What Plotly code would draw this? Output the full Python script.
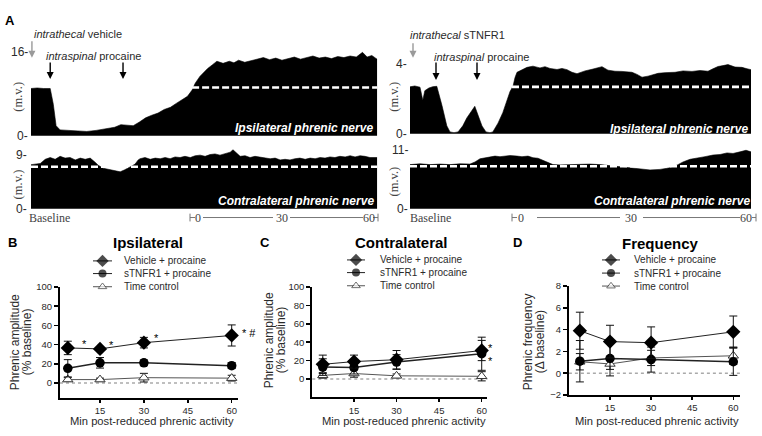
import plotly.graph_objects as go

W, H = 762, 436
SANS = "Liberation Sans, Arial, sans-serif"
SERIF = "Liberation Serif, Times New Roman, serif"
TXT = "#2a2a2a"

# ---------------- Panel A: integrated phrenic neurogram envelopes ----------------
# (time in min relative to onset of reduced phrenic activity, amplitude in m.v.)
IPSI_VEH = [(-52.0, 9.0), (-50.0, 9.1), (-48.0, 9.0), (-45.8, 9.0), (-44.8, 6.0), (-43.9, 1.9),
            (-42.6, 1.1), (-40.0, 1.0), (-37.0, 0.9), (-34.0, 0.8), (-31.0, 1.0), (-29.0, 1.2),
            (-27.0, 1.4), (-25.0, 1.6), (-23.0, 2.1), (-21.0, 2.0), (-19.0, 1.9), (-17.0, 2.6),
            (-15.0, 3.4), (-13.0, 3.9), (-11.0, 4.3), (-9.0, 5.0), (-7.0, 5.4), (-5.0, 6.2),
            (-3.0, 6.9), (-1.5, 7.5), (0.0, 8.7), (1.0, 10.0), (2.5, 11.3), (4.0, 12.3),
            (5.0, 12.8), (6.5, 13.5), (8.0, 14.2), (10.0, 13.8), (12.0, 14.2), (13.5, 13.9),
            (15.0, 14.4), (17.0, 14.0), (19.0, 14.3), (21.0, 14.6), (23.0, 14.9), (25.0, 14.5),
            (27.0, 14.8), (29.0, 14.4), (31.0, 14.7), (33.0, 15.0), (35.0, 14.6), (37.0, 14.9),
            (39.0, 15.2), (41.0, 14.8), (43.0, 15.0), (45.0, 14.7), (47.0, 15.1), (49.0, 14.9),
            (51.0, 15.2), (53.0, 15.0), (55.0, 15.9), (56.5, 15.0), (58.0, 15.3), (59.7, 14.6)]

CONTRA_VEH = [(-52.0, 7.4), (-49.0, 7.6), (-47.4, 8.3), (-45.8, 8.6), (-44.2, 8.3), (-42.6, 8.8),
              (-41.0, 8.5), (-39.4, 8.6), (-37.7, 8.2), (-36.1, 8.5), (-34.5, 8.3), (-32.9, 8.5),
              (-31.3, 7.8), (-30.3, 7.3), (-28.7, 6.8), (-27.1, 6.6), (-25.5, 6.5), (-24.2, 6.3),
              (-23.2, 6.2), (-21.9, 6.5), (-21.0, 6.8), (-19.7, 7.1), (-18.4, 7.5), (-17.4, 8.2),
              (-16.8, 8.4), (-15.2, 8.6), (-13.5, 8.3), (-11.9, 8.5), (-10.3, 8.4), (-8.7, 8.6),
              (-7.1, 8.4), (-5.5, 8.7), (-3.9, 8.6), (-2.3, 8.8), (-0.6, 8.6), (1.0, 8.9),
              (2.6, 9.0), (4.2, 8.8), (5.8, 9.1), (7.4, 9.2), (9.0, 9.0), (10.6, 9.3),
              (12.3, 9.5), (13.2, 9.9), (14.2, 9.4), (15.5, 8.8), (17.1, 8.9), (18.7, 8.6),
              (20.3, 8.8), (21.9, 8.7), (23.5, 8.6), (25.2, 8.4), (26.8, 8.5), (28.4, 8.2),
              (30.0, 8.3), (31.6, 8.2), (33.2, 8.4), (34.8, 8.5), (36.5, 8.3), (38.1, 8.5),
              (39.7, 8.4), (41.3, 8.6), (42.9, 8.5), (44.5, 8.7), (46.1, 8.6), (47.7, 8.8),
              (49.4, 8.7), (51.0, 8.9), (52.6, 8.7), (54.2, 8.9), (55.8, 8.8), (57.4, 8.6),
              (59.7, 8.6)]

IPSI_STN = [(-25.5, 2.67), (-24.3, 2.72), (-23.0, 2.65), (-22.3, 1.9), (-21.8, 2.45), (-20.8, 2.6),
            (-19.8, 2.68), (-18.8, 2.7), (-17.5, 1.6), (-16.3, 0.45), (-15.5, 0.1), (-14.5, 0.06),
            (-13.5, 0.1), (-12.3, 0.45), (-11.3, 0.9), (-10.5, 1.17), (-9.8, 1.45), (-9.3, 1.56),
            (-8.5, 1.06), (-7.5, 0.44), (-6.5, 0.1), (-5.5, 0.06), (-4.8, 0.1), (-3.5, 0.6),
            (-2.3, 1.2), (-1.3, 1.9), (-0.5, 2.4), (0.25, 2.7), (0.75, 3.2), (1.25, 3.5),
            (2.5, 3.65), (3.75, 3.78), (5.25, 3.85), (7.0, 3.75), (8.25, 3.82), (9.5, 3.72),
            (11.25, 3.66), (12.5, 3.72), (13.75, 3.65), (15.0, 3.5), (16.25, 3.42), (18.25, 3.58),
            (20.0, 3.67), (21.25, 3.75), (22.5, 3.82), (24.0, 3.62), (25.75, 3.56), (27.5, 3.55),
            (30.0, 3.5), (31.25, 3.38), (32.5, 3.22), (34.0, 3.28), (35.25, 3.36), (36.5, 3.44),
            (38.25, 3.48), (40.75, 3.5), (42.75, 3.58), (45.0, 3.55), (47.0, 3.6), (49.0, 3.56),
            (50.25, 3.7), (51.5, 3.83), (52.75, 3.88), (54.0, 3.94), (55.75, 3.8), (57.5, 3.78),
            (58.75, 3.7), (59.75, 3.65)]

CONTRA_STN = [(-25.5, 8.3), (-23.0, 8.45), (-20.5, 8.3), (-18.0, 8.4), (-15.5, 8.3), (-13.0, 8.45),
              (-10.5, 8.4), (-9.25, 8.8), (-8.0, 9.4), (-6.75, 9.6), (-5.5, 9.7), (-4.25, 9.9),
              (-3.0, 9.8), (-1.75, 9.9), (-0.5, 10.0), (1.25, 9.9), (2.5, 9.8), (4.0, 9.9),
              (5.25, 9.6), (6.5, 9.5), (7.75, 9.1), (9.0, 8.6), (10.25, 8.3), (12.0, 8.25),
              (14.5, 8.3), (17.0, 8.45), (19.5, 8.4), (22.0, 8.3), (24.5, 8.1), (27.0, 7.9),
              (29.5, 7.6), (32.0, 7.4), (34.5, 7.3), (37.0, 7.4), (39.5, 7.7), (41.25, 8.2),
              (42.75, 8.8), (44.5, 9.3), (46.25, 9.5), (48.25, 9.8), (50.25, 10.1), (52.0, 10.2),
              (53.75, 10.5), (55.25, 10.4), (57.0, 10.7), (58.5, 11.0), (59.75, 10.7)]

BASELINE_MV = [9.2, 7.05, 2.67, 8.0]          # dashed baseline level: ipsi-veh, contra-veh, ipsi-sTNFR1, contra-sTNFR1
IT_INJECTION = [-51.7, -24.75]                # intrathecal injection (vehicle, sTNFR1)
PROCAINE_VEH = [-45.8, -22.3]                 # intraspinal procaine injections, vehicle rat
PROCAINE_STN = [-19.0, -8.75]                 # intraspinal procaine injections, sTNFR1 rat

# ---------------- Panels B-D: group data (mean, SEM) ----------------
TIMES = [4, 15, 30, 60]
SERIES = ["Vehicle + procaine", "sTNFR1 + procaine", "Time control"]

B_VEH, B_VEH_SE = [36.5, 35.5, 42.0, 49.5], [7.0, 2.0, 5.5, 11.0]
B_STN, B_STN_SE = [15.3, 21.0, 21.0, 18.0], [9.0, 5.5, 3.0, 3.0]
B_TC, B_TC_SE = [3.5, 3.5, 5.5, 5.0], [2.0, 1.5, 4.5, 3.0]

C_VEH, C_VEH_SE = [16.0, 19.0, 21.0, 31.0], [10.0, 7.0, 10.0, 11.0]
C_STN, C_STN_SE = [13.0, 12.5, 18.5, 27.5], [9.0, 7.0, 8.0, 18.0]
C_TC, C_TC_SE = [4.0, 6.0, 3.5, 3.0], [3.0, 4.0, 2.0, 5.0]

D_VEH, D_VEH_SE = [3.9, 2.9, 2.8, 3.8], [1.7, 1.5, 1.45, 1.45]
D_STN, D_STN_SE = [1.1, 1.35, 1.25, 1.05], [1.9, 1.6, 1.15, 1.25]
D_TC, D_TC_SE = [1.05, 0.85, 1.4, 1.6], [0.75, 0.5, 0.7, 0.8]

# significance marks: (time point, y, text, pixel shift right of the point)
B_SIG = [(4, 40.5, "*", 15), (15, 39.5, "*", 10), (30, 47.0, "*", 11), (60, 52.5, "* #", 11)]
C_SIG = [(60, 34.0, "*", 7), (60, 19.5, "*", 7)]


def px(x):
    return x / W


def py(y):
    return 1 - y / H


def lin(p0, v0, p1, v1, v):
    return p0 + (v - v0) * (p1 - p0) / (v1 - v0)


def xdom(p0, v0, p1, v1, r):
    return [px(lin(p0, v0, p1, v1, r[0])), px(lin(p0, v0, p1, v1, r[1]))]


def ydom(p0, v0, p1, v1, r):
    return [py(lin(p0, v0, p1, v1, r[0])), py(lin(p0, v0, p1, v1, r[1]))]


fig = go.Figure()
layout = dict(width=W, height=H, margin=dict(l=0, r=0, t=0, b=0),
              paper_bgcolor="white", plot_bgcolor="rgba(0,0,0,0)", showlegend=False,
              font=dict(family=SANS, color=TXT))

# axis set-up: id -> (xdomain, xrange, ydomain, yrange)
AX = {
    1: (xdom(31, -52, 378, 60, [-52, 60]), [-52, 60], ydom(133, 0, 47, 16, [-0.3, 16.8]), [-0.3, 16.8]),
    2: (xdom(31, -52, 378, 60, [-52, 60]), [-52, 60], ydom(208, 0, 153, 9, [-0.2, 10.6]), [-0.2, 10.6]),
    3: (xdom(410, -25.5, 752, 60, [-25.5, 60]), [-25.5, 60], ydom(131, 0, 59, 4, [-0.1, 4.3]), [-0.1, 4.3]),
    4: (xdom(410, -25.5, 752, 60, [-25.5, 60]), [-25.5, 60], ydom(208, 0, 148, 11, [-0.2, 11.8]), [-0.2, 11.8]),
    5: (xdom(100, 15, 231.7, 60, [1.33, 62.3]), [1.33, 62.3], ydom(386.7, 0, 288.3, 100, [-15.3, 100]), [-15.3, 100]),
    6: (xdom(354, 15, 481.7, 60, [0.3, 62]), [0.3, 62], ydom(382.7, 0, 288.3, 100, [-20, 100]), [-20, 100]),
    7: (xdom(610, 15, 733.3, 60, [0, 62.5]), [0, 62.5], ydom(376.7, 0, 287.3, 8, [-2, 8]), [-2, 8]),
    8: ([0, 1], [0, W], [0, 1], [H, 0]),
}

for i, (xd, xr, yd, yr) in AX.items():
    xn = "xaxis" if i == 1 else f"xaxis{i}"
    yn = "yaxis" if i == 1 else f"yaxis{i}"
    anchor_y = "y" if i == 1 else f"y{i}"
    anchor_x = "x" if i == 1 else f"x{i}"
    if i in (5, 6, 7):
        layout[xn] = dict(domain=xd, range=xr, anchor=anchor_y, showline=True, linewidth=2,
                          linecolor="black", ticks="outside", ticklen=3, tickwidth=1.5,
                          tickcolor="black", tickvals=[15, 30, 45, 60], showgrid=False,
                          zeroline=False, tickfont=dict(size=9.5, color=TXT, family=SANS))
        tv = [-2, 0, 2, 4, 6, 8] if i == 7 else [0, 20, 40, 60, 80, 100]
        layout[yn] = dict(domain=yd, range=yr, anchor=anchor_x, showline=True, linewidth=2,
                          linecolor="black", ticks="outside", ticklen=4, tickwidth=1.5,
                          tickcolor="black", tickvals=tv, showgrid=False, zeroline=False,
                          tickfont=dict(size=9.5, color=TXT, family=SANS))
    else:
        layout[xn] = dict(domain=xd, range=xr, anchor=anchor_y, visible=False, fixedrange=True)
        layout[yn] = dict(domain=yd, range=yr, anchor=anchor_x, visible=False, fixedrange=True)


def xy(i):
    return ("x", "y") if i == 1 else (f"x{i}", f"y{i}")


# ---- neurogram traces ----
TRACES = [(1, IPSI_VEH, BASELINE_MV[0], True), (2, CONTRA_VEH, BASELINE_MV[1], False),
          (3, IPSI_STN, BASELINE_MV[2], True), (4, CONTRA_STN, BASELINE_MV[3], False)]
for i, env, base, from_zero in TRACES:
    xa, ya = xy(i)
    t = [p[0] for p in env]
    v = [p[1] for p in env]
    fig.add_trace(go.Scatter(x=t, y=v, xaxis=xa, yaxis=ya, mode="lines", fill="tozeroy",
                             fillcolor="black", line=dict(color="black", width=0.6),
                             hoverinfo="skip"))
    x0 = 0 if from_zero else t[0]
    fig.add_trace(go.Scatter(x=[x0, t[-1]], y=[base, base], xaxis=xa, yaxis=ya, mode="lines",
                             line=dict(color="white", width=2.6, dash="7px,3px"),
                             hoverinfo="skip"))

# ---- group data panels ----
PANELS = [
    (5, [(B_VEH, B_VEH_SE), (B_STN, B_STN_SE), (B_TC, B_TC_SE)]),
    (6, [(C_VEH, C_VEH_SE), (C_STN, C_STN_SE), (C_TC, C_TC_SE)]),
    (7, [(D_VEH, D_VEH_SE), (D_STN, D_STN_SE), (D_TC, D_TC_SE)]),
]
STYLE = [
    dict(symbol="diamond", size=11, color="black", line=dict(width=0), lc="#222", lw=1.0),
    dict(symbol="circle", size=9.5, color="black", line=dict(width=0), lc="#222", lw=1.5),
    dict(symbol="triangle-up", size=9, color="white", line=dict(width=1, color="#333"), lc="#555", lw=1.0),
]
shapes = []
for i, series in PANELS:
    xa, ya = xy(i)
    shapes.append(dict(type="line", xref=f"{xa} domain", yref=ya, x0=0, x1=1, y0=0, y1=0,
                       line=dict(color="#aaaaaa", width=1.5, dash="dot"), layer="below"))
    for k in (2, 1, 0):
        vals, se = series[k]
        st = STYLE[k]
        fig.add_trace(go.Scatter(
            x=TIMES, y=vals, xaxis=xa, yaxis=ya, mode="lines+markers", name=SERIES[k],
            line=dict(color=st["lc"], width=st["lw"]),
            marker=dict(symbol=st["symbol"], size=st["size"], color=st["color"], line=st["line"]),
            error_y=dict(type="data", array=se, visible=True, color="#111", thickness=1, width=4),
            cliponaxis=False, hoverinfo="skip"))

# ---- legends drawn on the full-figure overlay axis (pixel units) ----
LEG = {5: (93, 112, 122, [261.5, 274.5, 288]),
       6: (347, 365, 378, [260.5, 273.5, 287]),
       7: (602, 620, 632, [260.5, 274, 287.3])}
annotations = []
for i, (l0, l1, tx, rows) in LEG.items():
    for k in range(3):
        st = STYLE[k]
        yv = rows[k]
        fig.add_trace(go.Scatter(
            x=[l0, (l0 + l1) / 2, l1], y=[yv, yv, yv], xaxis="x8", yaxis="y8", mode="lines+markers",
            line=dict(color=st["lc"], width=1),
            marker=dict(symbol=st["symbol"], size=[0, st["size"] - 1.5, 0], color=st["color"], line=st["line"]),
            hoverinfo="skip"))
        annotations.append(dict(x=px(tx), y=py(yv), xref="paper", yref="paper", text=SERIES[k],
                                showarrow=False, xanchor="left", yanchor="middle",
                                font=dict(size=10, color=TXT, family=SANS)))


def A(x, y, text, size=11, color=TXT, xanchor="center", family=SANS, angle=0, **kw):
    d = dict(x=px(x), y=py(y), xref="paper", yref="paper", text=text, showarrow=False,
             xanchor=xanchor, yanchor="middle", textangle=angle,
             font=dict(size=size, color=color, family=family))
    d.update(kw)
    annotations.append(d)


# panel letters & titles
A(10, 15, "<b>A</b>", 13, "black")
A(12, 243, "<b>B</b>", 13, "black")
A(265, 243, "<b>C</b>", 13, "black")
A(517, 243, "<b>D</b>", 13, "black")
A(148, 243, "<b>Ipsilateral</b>", 15, "black")
A(402, 243, "<b>Contralateral</b>", 15, "black")
A(660, 244, "<b>Frequency</b>", 15, "black")

# axis titles bottom
for cx in (152, 404, 657):
    A(cx, 425.5, "Min post-reduced phrenic activity", 11.2)
A(15, 345, "Phrenic amplitude", 12, angle=-90)
A(27, 345, "(% baseline)", 12, angle=-90)
A(269, 343, "Phrenic amplitude", 12, angle=-90)
A(281, 343, "(% baseline)", 12, angle=-90)
A(528, 345, "Phrenic frequency", 12, angle=-90)
A(540, 345, "(\u0394 baseline)", 12, angle=-90)

# significance marks
for i, marks in ((5, B_SIG), (6, C_SIG)):
    xa, ya = xy(i)
    for (sx, sy, s, shift) in marks:
        annotations.append(dict(x=sx, y=sy, xref=xa, yref=ya, text=s, showarrow=False,
                                xanchor="left", yanchor="middle", xshift=shift - 3,
                                font=dict(size=11, color="black", family=SANS)))

# panel A text
A(32, 29, "<i>intrathecal</i> vehicle", 11, xanchor="left")
A(44, 51, "<i>intraspinal</i> procaine", 11, xanchor="left")
A(408, 30, "<i>intrathecal</i> sTNFR1", 11, xanchor="left")
A(432, 52, "<i>intraspinal</i> procaine", 11, xanchor="left")
A(375, 125, "<b><i>Ipsilateral phrenic nerve</i></b>", 12, "white", xanchor="right")
A(376, 200, "<b><i>Contralateral phrenic nerve</i></b>", 12, "white", xanchor="right")
A(750, 126, "<b><i>Ipsilateral phrenic nerve</i></b>", 12, "white", xanchor="right")
A(752, 200, "<b><i>Contralateral phrenic nerve</i></b>", 12, "white", xanchor="right")

# amplitude scale labels
for (xr, i, val, lab) in ((30, 1, 16, "16-"), (30, 1, 0, "0-"), (29, 2, 9, "9-"), (29, 2, 0, "0-"),
                          (409, 3, 4, "4-"), (409, 3, 0, "0-"), (410, 4, 11, "11-"), (410, 4, 0, "0-")):
    xa, ya = xy(i)
    annotations.append(dict(x=px(xr), y=val, xref="paper", yref=ya, text=lab, showarrow=False,
                            xanchor="right", yanchor="middle", font=dict(size=12, color=TXT, family=SANS)))
for (x, y) in ((18, 93), (18, 183), (394, 93), (394, 180)):
    A(x, y, "(m.v.)", 12.5, "#444", family=SERIF, angle=-90)

# time scale under the traces
A(49, 217, "Baseline", 12, "#444", family=SERIF)
A(431, 217, "Baseline", 12, "#444", family=SERIF)
for (x, s) in ((198, "0"), (281.5, "30"), (368.5, "60"), (521, "0"), (631, "30"), (746, "60")):
    A(x, 217, s, 12, "#444", family=SERIF)
GR = dict(color="#777", width=1)
for (a, b) in ((203, 273), (290, 363), (537, 620), (643, 740)):
    shapes.append(dict(type="line", xref="paper", yref="paper", x0=px(a), x1=px(b), y0=py(217), y1=py(217), line=GR))
for (xv, xh) in ((190, 195), (378, 373), (512, 517), (756, 752)):
    shapes.append(dict(type="line", xref="paper", yref="paper", x0=px(xv), x1=px(xv), y0=py(213), y1=py(221), line=GR))
    shapes.append(dict(type="line", xref="paper", yref="paper", x0=px(xv), x1=px(xh), y0=py(217), y1=py(217), line=GR))

# injection arrows (x in trace time, y in page pixels)
for (xa, tt, head, tail, col) in (("x", IT_INJECTION[0], 53, 35, "#9a9a9a"), ("x3", IT_INJECTION[1], 53, 37, "#9a9a9a"),
                                  ("x", PROCAINE_VEH[0], 75, 57, "black"), ("x", PROCAINE_VEH[1], 75, 57, "black"),
                                  ("x3", PROCAINE_STN[0], 76, 57, "black"), ("x3", PROCAINE_STN[1], 76, 57, "black")):
    annotations.append(dict(x=tt, y=py(head), xref=xa, yref="paper", text="", showarrow=True,
                            ax=0, ay=-(head - tail), arrowhead=2, arrowsize=1, arrowwidth=1.4,
                            arrowcolor=col, standoff=0))

layout["annotations"] = annotations
layout["shapes"] = shapes
fig.update_layout(**layout)
fig.write_html("out.html", config={"displayModeBar": False, "staticPlot": True},
               post_script="document.body.style.margin='0';document.body.style.overflow='hidden';")
